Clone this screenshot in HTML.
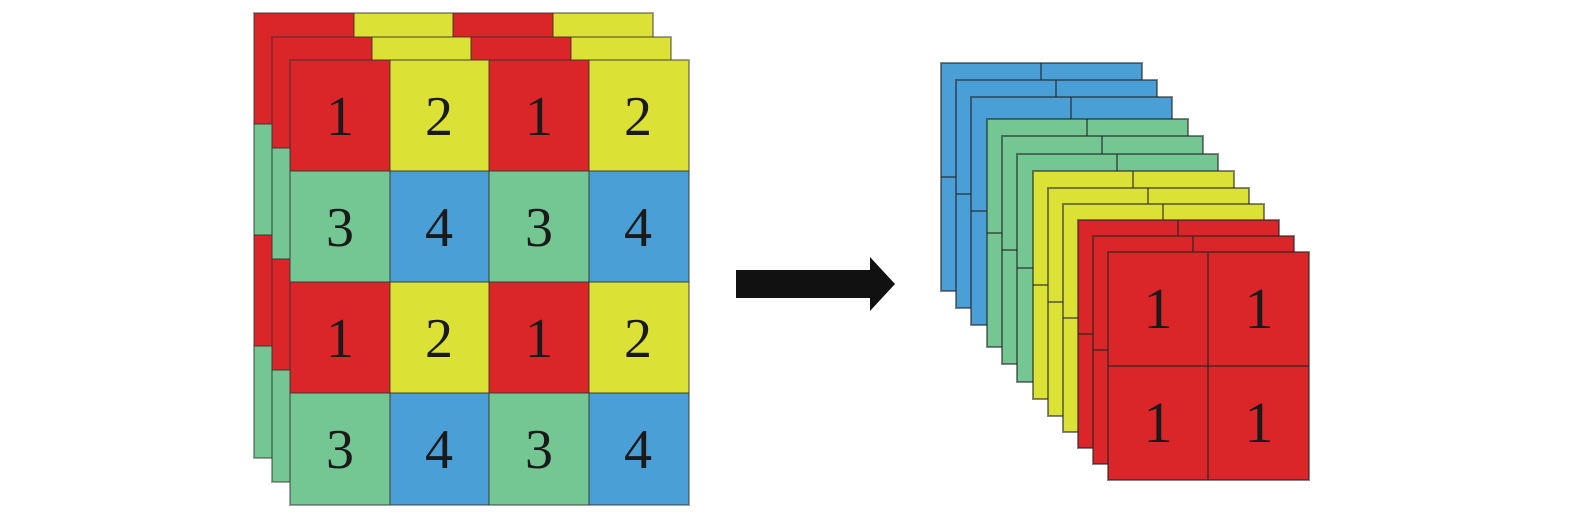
<!DOCTYPE html>
<html><head><meta charset="utf-8"><style>html,body{margin:0;padding:0;background:#fff}svg{display:block}</style></head>
<body>
<svg width="1575" height="524" xmlns="http://www.w3.org/2000/svg" font-family="Liberation Serif, serif">
<defs>
<g id="L">
 <rect x="0" y="0" width="100" height="111" fill="#da2629"/>
 <rect x="100" y="0" width="99" height="111" fill="#dce136"/>
 <rect x="199" y="0" width="100" height="111" fill="#da2629"/>
 <rect x="299" y="0" width="100" height="111" fill="#dce136"/>
 <rect x="0" y="111" width="100" height="111" fill="#74c692"/>
 <rect x="100" y="111" width="99" height="111" fill="#4a9fd6"/>
 <rect x="199" y="111" width="100" height="111" fill="#74c692"/>
 <rect x="299" y="111" width="100" height="111" fill="#4a9fd6"/>
 <rect x="0" y="222" width="100" height="111" fill="#da2629"/>
 <rect x="100" y="222" width="99" height="111" fill="#dce136"/>
 <rect x="199" y="222" width="100" height="111" fill="#da2629"/>
 <rect x="299" y="222" width="100" height="111" fill="#dce136"/>
 <rect x="0" y="333" width="100" height="112" fill="#74c692"/>
 <rect x="100" y="333" width="99" height="112" fill="#4a9fd6"/>
 <rect x="199" y="333" width="100" height="112" fill="#74c692"/>
 <rect x="299" y="333" width="100" height="112" fill="#4a9fd6"/>
 <g stroke="#333" stroke-opacity="0.45" stroke-width="2" fill="none">
  <rect x="0" y="0" width="399" height="445"/>
  <line x1="100" y1="0" x2="100" y2="445"/><line x1="199" y1="0" x2="199" y2="445"/><line x1="299" y1="0" x2="299" y2="445"/>
  <line x1="0" y1="111" x2="399" y2="111"/><line x1="0" y1="222" x2="399" y2="222"/><line x1="0" y1="333" x2="399" y2="333"/>
 </g>
</g>
</defs>
<use href="#L" x="254" y="13"/>
<use href="#L" x="272" y="37"/>
<use href="#L" x="290" y="60"/>
<g font-size="56" fill="#1a1a1a" text-anchor="middle">
 <text x="340" y="135">1</text><text x="439" y="135">2</text><text x="539" y="135">1</text><text x="638" y="135">2</text>
 <text x="340" y="246">3</text><text x="439" y="246">4</text><text x="539" y="246">3</text><text x="638" y="246">4</text>
 <text x="340" y="357">1</text><text x="439" y="357">2</text><text x="539" y="357">1</text><text x="638" y="357">2</text>
 <text x="340" y="468">3</text><text x="439" y="468">4</text><text x="539" y="468">3</text><text x="638" y="468">4</text>
</g>
<polygon points="736,270 870,270 870,257 895,284 870,311 870,298 736,298" fill="#111"/>
<g stroke="#222" stroke-opacity="0.55" stroke-width="2">
 <g transform="translate(941,63)"><rect width="201" height="228" fill="#4a9fd6"/><line x1="100" y1="0" x2="100" y2="228"/><line x1="0" y1="114" x2="201" y2="114"/></g>
 <g transform="translate(956,80)"><rect width="201" height="228" fill="#4a9fd6"/><line x1="100" y1="0" x2="100" y2="228"/><line x1="0" y1="114" x2="201" y2="114"/></g>
 <g transform="translate(971,97)"><rect width="201" height="228" fill="#4a9fd6"/><line x1="100" y1="0" x2="100" y2="228"/><line x1="0" y1="114" x2="201" y2="114"/></g>
 <g transform="translate(987,119)"><rect width="201" height="228" fill="#74c692"/><line x1="100" y1="0" x2="100" y2="228"/><line x1="0" y1="114" x2="201" y2="114"/></g>
 <g transform="translate(1002,136)"><rect width="201" height="228" fill="#74c692"/><line x1="100" y1="0" x2="100" y2="228"/><line x1="0" y1="114" x2="201" y2="114"/></g>
 <g transform="translate(1017,154)"><rect width="201" height="228" fill="#74c692"/><line x1="100" y1="0" x2="100" y2="228"/><line x1="0" y1="114" x2="201" y2="114"/></g>
 <g transform="translate(1033,171)"><rect width="201" height="228" fill="#dce136"/><line x1="100" y1="0" x2="100" y2="228"/><line x1="0" y1="114" x2="201" y2="114"/></g>
 <g transform="translate(1048,188)"><rect width="201" height="228" fill="#dce136"/><line x1="100" y1="0" x2="100" y2="228"/><line x1="0" y1="114" x2="201" y2="114"/></g>
 <g transform="translate(1063,204)"><rect width="201" height="228" fill="#dce136"/><line x1="100" y1="0" x2="100" y2="228"/><line x1="0" y1="114" x2="201" y2="114"/></g>
 <g transform="translate(1078,220)"><rect width="201" height="228" fill="#da2629"/><line x1="100" y1="0" x2="100" y2="228"/><line x1="0" y1="114" x2="201" y2="114"/></g>
 <g transform="translate(1093,236)"><rect width="201" height="228" fill="#da2629"/><line x1="100" y1="0" x2="100" y2="228"/><line x1="0" y1="114" x2="201" y2="114"/></g>
 <g transform="translate(1108,252)"><rect width="201" height="228" fill="#da2629"/><line x1="100" y1="0" x2="100" y2="228"/><line x1="0" y1="114" x2="201" y2="114"/></g>
</g>
<g font-size="58" fill="#1a1a1a" text-anchor="middle">
 <text x="1158" y="328">1</text><text x="1259" y="328">1</text>
 <text x="1158" y="442">1</text><text x="1259" y="442">1</text>
</g>
</svg>
</body></html>
